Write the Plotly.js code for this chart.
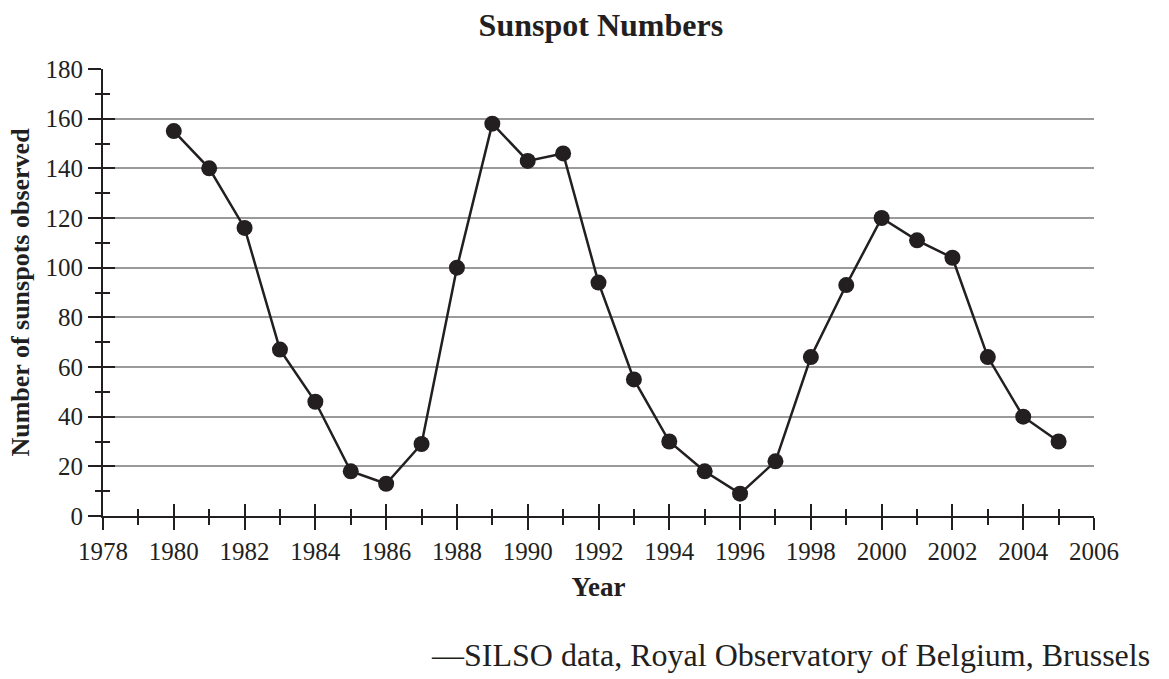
<!DOCTYPE html>
<html>
<head>
<meta charset="utf-8">
<script src="https://cdn.plot.ly/plotly-3.0.1.min.js"></script>
<style>html,body{margin:0;padding:0;background:#fff;}#chart{width:1169px;height:679px;}</style>
</head>
<body>
<div id="chart"></div>
<script>
const years = [1980,1981,1982,1983,1984,1985,1986,1987,1988,1989,1990,1991,1992,1993,1994,1995,1996,1997,1998,1999,2000,2001,2002,2003,2004,2005];
const sunspots = [155,140,116,67,46,18,13,29,100,158,143,146,94,55,30,18,9,22,64,93,120,111,104,64,40,30];
const chartTitle = "Sunspot Numbers";
const xTitle = "Year";
const yTitle = "Number of sunspots observed";
const sourceNote = "—SILSO data, Royal Observatory of Belgium, Brussels";

const ink = "#231f20";
const serif = "'Liberation Serif', 'Times New Roman', serif";

const traces = [
  {x: years, y: sunspots, type: "scatter", mode: "lines+markers",
   line: {color: ink, width: 2.5}, marker: {color: ink, size: 16},
   xaxis: "x", yaxis: "y", showlegend: false, hoverinfo: "x+y"},
  {x: years, y: sunspots, type: "scatter", mode: "markers",
   marker: {opacity: 0, size: 1}, xaxis: "x2", yaxis: "y2", showlegend: false, hoverinfo: "skip"}
];

const baseX = {range: [1978, 2006], dtick: 2, tick0: 1978, showgrid: false, zeroline: false,
  tickcolor: ink, tickwidth: 2, fixedrange: true};
const baseY = {range: [0, 180], dtick: 20, tick0: 0, zeroline: false,
  tickcolor: ink, tickwidth: 2, fixedrange: true};

const layout = {
  width: 1169, height: 679,
  margin: {l: 103, r: 75, t: 69, b: 163},
  paper_bgcolor: "#fff", plot_bgcolor: "#fff",
  font: {family: serif, color: ink, size: 25},
  title: {text: "<b>" + chartTitle + "</b>", x: 0.514, xanchor: "center", y: 0.963, yanchor: "middle",
          font: {family: serif, size: 32, color: ink}},
  xaxis: Object.assign({}, baseX, {
    showline: true, linecolor: ink, linewidth: 2,
    ticks: "outside", ticklen: 12,
    minor: {dtick: 1, tick0: 1978, ticks: "outside", ticklen: 7, tickcolor: ink, tickwidth: 2},
    tickfont: {family: serif, size: 25, color: ink},
    title: {text: "<b>" + xTitle + "</b>", standoff: 13, font: {family: serif, size: 27, color: ink}}
  }),
  xaxis2: Object.assign({}, baseX, {
    overlaying: "x", anchor: "y", side: "bottom", showline: false,
    ticks: "inside", ticklen: 12, showticklabels: false,
    minor: {dtick: 1, tick0: 1978, ticks: "inside", ticklen: 7, tickcolor: ink, tickwidth: 2}
  }),
  yaxis: Object.assign({}, baseY, {
    showline: true, linecolor: ink, linewidth: 2,
    showgrid: true, gridcolor: "#9a9a9a", gridwidth: 2,
    ticks: "outside", ticklen: 13,
    minor: {dtick: 10, tick0: 0, ticks: "outside", ticklen: 6, tickcolor: ink, tickwidth: 2, showgrid: false},
    tickfont: {family: serif, size: 25, color: ink},
    title: {text: "<b>" + yTitle + "</b>", standoff: 8, font: {family: serif, size: 26, color: ink}}
  }),
  yaxis2: Object.assign({}, baseY, {
    overlaying: "y", anchor: "x", side: "left", showline: false, showgrid: false,
    ticks: "inside", ticklen: 12, showticklabels: false,
    minor: {dtick: 10, tick0: 0, ticks: "inside", ticklen: 7, tickcolor: ink, tickwidth: 2, showgrid: false}
  }),
  annotations: [
    {text: sourceNote, xref: "paper", yref: "paper", x: 1.0585, y: -0.311,
     xanchor: "right", yanchor: "middle", showarrow: false,
     font: {family: serif, size: 32, color: ink}}
  ]
};

Plotly.newPlot("chart", traces, layout, {displayModeBar: false, staticPlot: true});
</script>
</body>
</html>
